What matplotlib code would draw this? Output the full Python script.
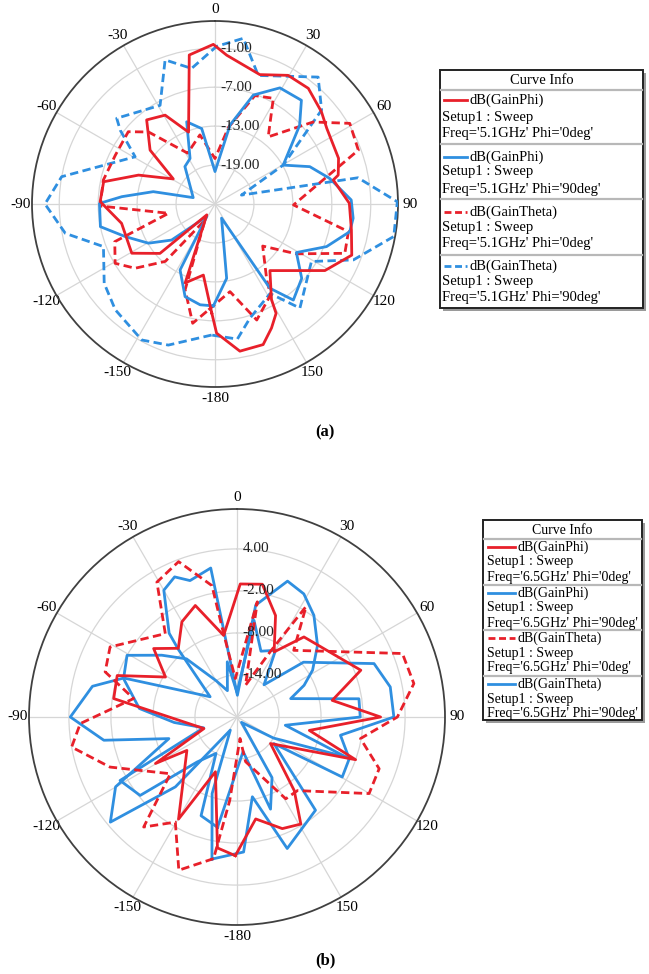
import numpy as np
import matplotlib
matplotlib.use('Agg')
import matplotlib.pyplot as plt
from matplotlib.patches import Rectangle
import matplotlib.transforms as mtransforms

plt.rcParams['font.family'] = ['Liberation Serif', 'DejaVu Serif']

RED = '#e8202a'
BLUE = '#2f8fe0'

# ---------------- (a) 5.1 GHz : theta (deg), gain (dB) ----------------
a_phi0_gainphi_th = [-178.3, -170.7, -159.3, -142.9, -131.9, -120.6, -101.7, -88.8, -78.7, -69.3,
                     -59.0, -50.3, -39.1, -29.3, -20.2, -9.8, -0.6, 4.5, 19.1, 29.6, 38.9, 49.1,
                     55.9, 69.7, 76.8, 78.5, 89.7, 100.8, 110.5, 121.2, 140.5, 149.4, 150.8,
                     155.5, 161.1, 170.4, 179.3]
a_phi0_gainphi_db = [-8.2, -13.9, -12.0, -22.9, -13.6, -10.1, -10.3, -7.3, -7.5, -12.4,
                     -17.5, -12.0, -8.3, -9.3, -13.2, -1.7, -0.4, -2.0, -3.9, -2.2, -2.1, -3.3,
                     -4.2, -4.7, -5.5, -6.4, -4.3, -3.6, -2.5, -5.2, -11.7, -7.9, -5.7,
                     -4.0, -2.1, -2.0, -5.1]

a_phi90_gainphi_th = [-179.1, -171.6, -162.1, -152.1, -146.7, -129.7, -120.5, -110.0, -101.2, -89.7,
                      -85.5, -78.7, -73.7, -38.8, -28.7, -19.0, -10.0, 0.0, 10.8, 19.4, 29.2,
                      39.8, 47.1, 60.3, 68.5, 77.4, 88.3, 95.9, 101.6, 110.9, 120.8, 130.6,
                      140.8, 146.9, 155.1, 171.1]
a_phi90_gainphi_db = [-9.3, -9.3, -10.0, -13.5, -22.7, -16.3, -13.1, -10.3, -7.0, -7.2,
                      -10.6, -15.3, -21.5, -17.6, -17.0, -11.6, -13.2, -20.0, -12.6, -7.2, -4.5,
                      -4.2, -7.2, -12.9, -9.3, -6.9, -4.0, -3.6, -3.8, -6.6, -10.4, -7.4,
                      -5.9, -9.5, -22.6, -13.4]

a_phi0_gaintheta_th = [-175.6, -169.4, -160.8, -148.0, -139.1, -128.8, -120.7, -110.6, -101.3, -91.0,
                       -77.9, -63.9, -50.2, -42.7, -28.3, -12.3, 0.0, 10.0, 20.2, 28.9, 38.4,
                       50.1, 59.1, 69.4, 90.7, 101.7, 110.8, 121.5, 131.4, 145.8, 148.5,
                       160.2, 170.3]
a_phi0_gaintheta_db = [-8.4, -6.3, -11.0, -22.1, -13.3, -9.2, -7.1, -8.5, -17.7, -7.3,
                       -7.4, -7.9, -7.6, -9.9, -16.1, -14.1, -18.0, -13.0, -7.2, -6.4, -11.8,
                       -5.3, -0.8, -1.4, -12.9, -4.0, -3.6, -10.3, -15.2, -10.8, -8.6,
                       -6.0, -11.3]

a_phi90_gaintheta_th = [-178.5, -161.7, -151.7, -136.7, -125.6, -110.9, -101.1, -90.0, -79.9, -59.4,
                        -52.1, -48.9, -29.1, -19.1, -9.8, 0.6, 9.7, 18.6, 39.1, 48.6, 60.3,
                        71.4, 79.6, 89.3, 100.3, 112.0, 120.8, 140.8, 148.4, 163.0, 170.6]
a_phi90_gaintheta_db = [-4.8, -2.1, -1.2, -2.6, -4.0, -6.6, -1.5, 1.2, -1.0, -10.7,
                        -6.5, -4.9, -7.6, -1.5, -3.8, -0.7, 0.9, -4.1, 0.2, -3.1, -12.9,
                        -20.7, -2.6, 3.1, 3.0, -2.0, -7.7, -4.3, -8.8, -6.6, -3.9]

# ---------------- (b) 6.5 GHz ----------------
b_phi0_gainphi_th = [-179.3, -171.5, -158.5, -150.2, -123.7, -119.7, -109.3, -81.5, -70.9, -60.8,
                     -50.6, -40.5, -30.1, -20.5, -9.3, 1.4, 10.8, 20.8, 29.7, 39.9, 69.3, 80.1,
                     90.0, 100.5, 109.8, 128.4, 142.1, 149.2, 157.9, 169.6]
b_phi0_gainphi_db = [-0.2, -1.1, -11.6, -3.2, -11.4, -6.6, -15.0, -2.2, -1.9, -8.3,
                     -4.6, -7.1, -4.3, -3.0, -8.2, -1.0, -0.7, -4.5, -9.3, -5.1, -1.1, -6.2,
                     0.5, -9.5, -2.0, -13.9, -6.7, -2.2, -2.8, -5.2]

b_phi90_gainphi_th = [-170.0, -162.0, -153.0, -138.6, -129.7, -119.9, -107.6, -99.9, -90.0, -78.0,
                      -71.0, -53.0, -41.0, -39.0, -30.0, -24.0, -19.0, -10.0, 1.0, 9.5, 20.4,
                      28.5, 37.1, 48.3, 58.2, 64.7, 71.1, 81.5, 90.0, 99.7, 110.4, 119.7,
                      125.8, 139.9, 159.1, 169.1, 177.2]
b_phi90_gainphi_db = [0.6, -8.5, -17.9, -6.7, 3.5, 0.0, -9.8, -0.7, 3.8, 1.1,
                      -2.9, -15.2, -7.3, -4.6, 0.9, 1.9, 0.6, 1.6, -16.9, -3.8, 0.7,
                      0.0, -1.8, -4.6, -7.3, -9.4, -11.9, -2.4, -2.4, -13.0, -2.9, -2.7,
                      -13.5, -2.6, 0.1, -8.4, -0.7]

b_phi0_gaintheta_th = [-170.6, -159.2, -149.6, -139.7, -130.4, -111.5, -100.3, -92.4, -79.9, -71.1,
                       -61.1, -40.7, -30.7, -20.6, -10.8, -9.1, -2.5, 10.0, 15.0, 27.0, 32.0,
                       40.4, 69.0, 79.3, 90.0, 99.9, 110.0, 120.1, 140.6, 149.2, 169.1, 172.0,
                       -175.0]
b_phi0_gaintheta_db = [0.5, 3.4, -2.6, 0.6, -7.5, -0.5, 4.0, 2.4, -5.0, -0.1,
                       0.7, -4.3, 2.4, 3.7, -0.9, -8.0, -14.5, -3.3, -15.3, -9.5, -1.4,
                       -7.5, 5.3, 5.7, 2.9, -2.1, 1.6, 1.8, -6.4, -6.4, -13.5, -16.9,
                       -8.0]

b_phi90_gaintheta_th = [-170.0, -160.0, -150.0, -138.4, -129.0, -118.5, -108.0, -95.0, -85.0, -71.3,
                        -60.7, -50.6, -41.0, -30.0, -20.0, -10.0, 0.0, 10.0, 20.0, 30.0, 40.0,
                        50.5, 68.7, 78.9, 90.0, 100.0, 110.0, 120.0, 140.0, 150.0, 160.0, 170.0]
b_phi90_gaintheta_db = [-4.0, -5.0, -14.0, -11.4, -2.2, -1.0, -15.0, -11.0, -6.0, -2.9,
                        -2.0, -6.1, -9.0, -14.0, -16.0, -12.0, -16.5, -6.0, -10.0, -9.0, -14.0,
                        -7.7, 1.0, 2.3, 2.4, -5.0, -3.0, -14.0, -19.0, -10.0, -6.0, -15.0]

theta_ticks = [0, 30, 60, 90, 120, 150, 180, 210, 240, 270, 300, 330]
theta_labels = ['0', '30', '60', '90', '120', '150', '-180', '-150', '-120', '-90', '-60', '-30']

a_rings = [-19, -13, -7, -1]
a_ring_labels = ['-19.00', '-13.00', '-7.00', '-1.00']
b_rings = [-14, -8, -2, 4]
b_ring_labels = ['-14.00', '-8.00', '-2.00', '4.00']

legend_a = [("dB(GainPhi)", "Freq='5.1GHz' Phi='0deg'", RED, '-'),
            ("dB(GainPhi)", "Freq='5.1GHz' Phi='90deg'", BLUE, '-'),
            ("dB(GainTheta)", "Freq='5.1GHz' Phi='0deg'", RED, '--'),
            ("dB(GainTheta)", "Freq='5.1GHz' Phi='90deg'", BLUE, '--')]
legend_b = [("dB(GainPhi)", "Freq='6.5GHz' Phi='0deg'", RED, '-'),
            ("dB(GainPhi)", "Freq='6.5GHz' Phi='90deg'", BLUE, '-'),
            ("dB(GainTheta)", "Freq='6.5GHz' Phi='0deg'", RED, '--'),
            ("dB(GainTheta)", "Freq='6.5GHz' Phi='90deg'", BLUE, '-')]

W, H = 649, 974
fig = plt.figure(figsize=(W / 100, H / 100), dpi=100)


def polar_axes(cx, cy, rad, rmin, rmax, rings, ring_labels):
    ax = fig.add_axes([(cx - rad) / W, 1 - (cy + rad) / H, 2 * rad / W, 2 * rad / H],
                      projection='polar')
    ax.set_theta_zero_location('N')
    ax.set_theta_direction(-1)
    ax.set_ylim(rmin, rmax)
    ax.set_yticks(rings)
    ax.set_yticklabels([])
    ax.set_xticks(np.deg2rad(theta_ticks))
    ax.set_xticklabels(theta_labels, fontsize=11)
    ax.set_xticks(np.deg2rad(np.arange(0, 360, 5)), minor=True)
    ax.tick_params(axis='x', which='major', direction='out', length=4, width=1.0,
                   color='#404040', pad=-2.5)
    ax.tick_params(axis='x', which='minor', direction='out', length=4, width=0.9,
                   color='#404040')
    ax.xaxis.grid(True, which='major', color='#d6d6d6', lw=0.9)
    ax.xaxis.grid(False, which='minor')
    ax.yaxis.grid(True, color='#d6d6d6', lw=0.9)
    ax.spines['polar'].set_color('#404040')
    ax.spines['polar'].set_linewidth(1.3)
    off = mtransforms.offset_copy(ax.transData, fig=fig, x=4, y=0, units='points')
    for v, lab in zip(rings, ring_labels):
        ax.text(0, v, lab, transform=off, ha='left', va='center', fontsize=11,
                zorder=10, color='#222222')
    return ax


def draw(ax, th, db, color, ls, z):
    t = np.deg2rad(np.array(th + th[:1], dtype=float))
    r = np.array(db + db[:1], dtype=float)
    if ls == '--':
        ax.plot(t, r, color=color, lw=2.0, dashes=(3.0, 1.6), zorder=z)
    else:
        ax.plot(t, r, color=color, lw=2.0, zorder=z)


ax1 = polar_axes(215, 204, 183, -25, 3.2, a_rings, a_ring_labels)
draw(ax1, a_phi90_gaintheta_th, a_phi90_gaintheta_db, BLUE, '--', 3)
draw(ax1, a_phi0_gaintheta_th, a_phi0_gaintheta_db, RED, '--', 4)
draw(ax1, a_phi90_gainphi_th, a_phi90_gainphi_db, BLUE, '-', 5)
draw(ax1, a_phi0_gainphi_th, a_phi0_gainphi_db, RED, '-', 6)

ax2 = polar_axes(237, 717, 208, -20, 9.7, b_rings, b_ring_labels)
draw(ax2, b_phi90_gaintheta_th, b_phi90_gaintheta_db, BLUE, '-', 3)
draw(ax2, b_phi90_gainphi_th, b_phi90_gainphi_db, BLUE, '-', 4)
draw(ax2, b_phi0_gaintheta_th, b_phi0_gaintheta_db, RED, '--', 5)
draw(ax2, b_phi0_gainphi_th, b_phi0_gainphi_db, RED, '-', 6)

# ---------------- legends (pixel-space overlay) ----------------
lg = fig.add_axes([0, 0, 1, 1], facecolor='none')
lg.set_xlim(0, W)
lg.set_ylim(H, 0)
lg.axis('off')


def legend_box(x0, y0, x1, y1, title_y, sep_title, entries, rows, seps, sample, text_x, fs):
    lg.add_patch(Rectangle((x0 + 3, y0 + 3), x1 - x0, y1 - y0, facecolor='#9a9a9a',
                           edgecolor='none', zorder=1))
    lg.add_patch(Rectangle((x0, y0), x1 - x0, y1 - y0, facecolor='white',
                           edgecolor='#222222', lw=1.4, zorder=2))
    lg.text((x0 + x1) / 2, title_y, 'Curve Info', ha='center', va='center', fontsize=fs, zorder=3)
    for s in [sep_title] + seps:
        lg.plot([x0 + 1, x1 - 1], [s, s], color='#b8b8b8', lw=1.6, zorder=3)
    for (name, freq, col, ls), (ya, yb, yc) in zip(entries, rows):
        if ls == '--':
            lg.plot(sample, [ya, ya], color=col, lw=2.0, dashes=(2.5, 1.3), zorder=3)
        else:
            lg.plot(sample, [ya, ya], color=col, lw=2.0, zorder=3)
        lg.text(sample[1] + 3, ya, name, ha='left', va='center', fontsize=fs, zorder=3)
        lg.text(text_x, yb, 'Setup1 : Sweep', ha='left', va='center', fontsize=fs, zorder=3)
        lg.text(text_x, yc, freq, ha='left', va='center', fontsize=fs, zorder=3)


legend_box(440, 70, 643, 308, 80, 90, legend_a,
           [(100, 117, 133), (157, 172, 189), (212, 227, 243), (266, 282, 298)],
           [144, 199, 255], [444, 467], 442, 10.5)
legend_box(483, 520, 642, 720, 530, 539, legend_b,
           [(547, 562, 577), (593, 608, 623), (638, 653, 667), (684, 699, 713)],
           [585, 630, 676], [488, 515], 487, 10.0)

fig.text(325 / W, 1 - 432 / H, '(a)', ha='center', va='center', fontsize=12, fontweight='bold')
fig.text(325 / W, 1 - 960 / H, '(b)', ha='center', va='center', fontsize=12, fontweight='bold')

fig.savefig('out.png', dpi=100, facecolor='white')
